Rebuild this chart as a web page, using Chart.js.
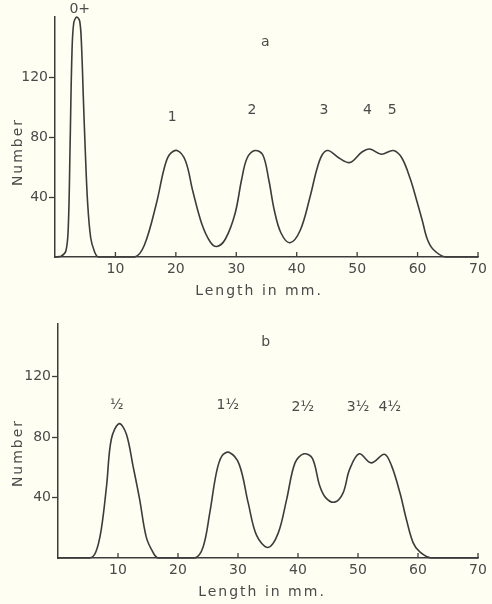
<!DOCTYPE html>
<html><head><meta charset="utf-8">
<script src="https://cdn.jsdelivr.net/npm/chart.js@4.4.1/dist/chart.umd.min.js"></script>
<style>
html,body{margin:0;padding:0;background:#fefef2;}
#wrap{position:relative;width:492px;height:604px;overflow:hidden;}
canvas{position:absolute;left:0;}
</style></head><body>
<div id="wrap">
<canvas id="ca" width="492" height="302" style="top:0"></canvas>
<canvas id="cb" width="492" height="302" style="top:302px"></canvas>
</div>
<script>
// ---- Data ----
const xTicks = [10, 20, 30, 40, 50, 60, 70];
const yTicks = [40, 80, 120];

// Panel a
const aLength = [0, 1.0, 1.8, 2.2, 2.5, 2.8, 3.1, 3.6, 4.1, 4.4, 4.7, 5.0, 5.4, 5.9, 6.5, 7.2,
  13.2, 14.8, 16.8, 18.0, 18.9, 20.2, 21.6, 22.8, 24.3, 25.7, 26.8, 28.2, 29.8, 30.9, 31.8,
  33.1, 34.4, 35.4, 36.3, 37.4, 38.9, 40.6, 42.2, 43.3, 44.2, 45.2, 47.0, 48.8, 50.8, 52.1, 54.0,
  56.0, 57.4, 58.8, 59.9, 60.8, 61.6, 62.6, 64.6, 70];
const aNumber = [0, 0.5, 4, 20, 75, 135, 156, 160, 157, 140, 105, 72, 36, 13, 4, 0,
  0, 8, 36, 58, 68, 71, 64, 44, 22, 10, 7, 12, 29, 52, 66,
  71, 68, 51, 31, 16, 9.5, 18, 40, 58, 68, 71, 66, 63, 70, 72, 68.5,
  71, 66, 52, 37, 24, 12, 5, 0, 0];
const aLabels = ['a', '0+', '1', '2', '3', '4', '5'];
const aLabelX = [34.8, 4.1, 19.4, 32.6, 44.5, 51.7, 55.8];
const aLabelY = [143, 165, 93, 98, 98, 98, 98];

// Panel b
const bLength = [0, 5.3, 6.3, 7.2, 8.1, 8.9, 10.2, 11.4, 12.5, 13.6, 14.7, 15.8, 16.7,
  22.8, 24.2, 25.3, 26.4, 27.3, 28.5, 30.2, 31.7, 33.1, 35.0, 36.7, 38.1, 39.5, 41.0, 42.4,
  43.6, 44.6, 46.1, 47.5, 48.6, 50.2, 52.2, 54.4, 55.6, 57.0, 58.1, 59.2, 60.3, 62.2, 70];
const bNumber = [0, 0, 4, 18.7, 48, 79, 89, 82, 61, 39, 14, 4, 0,
  0, 7.5, 30, 56.5, 67.5, 70, 62, 36.5, 15, 7, 16.5, 38.7, 63, 69, 66,
  48, 40, 37, 43, 58.7, 69, 63, 68.7, 61, 43, 25, 10, 4, 0, 0];
const bLabels = ['b', '½', '1½', '2½', '3½', '4½'];
const bLabelX = [34.6, 9.8, 28.3, 40.8, 50.0, 55.3];
const bLabelY = [143, 101, 101, 100, 100, 100];

const yTitle = 'Number';
const xTitle = 'Length in mm.';

// ---- Styling ----
const INK = '#3c3c3c';
const TXT = '#4a4a4a';
const FONT = '"DejaVu Sans", sans-serif';

const deco = {
  id: 'deco',
  afterDraw(chart, args, o) {
    const {ctx, chartArea, scales: {x, y}} = chart;
    ctx.save();
    ctx.strokeStyle = INK; ctx.lineWidth = 1.3;
    xTicks.forEach(v => {
      const px = x.getPixelForValue(v);
      ctx.beginPath(); ctx.moveTo(px, chartArea.bottom); ctx.lineTo(px, chartArea.bottom - 5); ctx.stroke();
    });
    ctx.fillStyle = TXT; ctx.font = '14px ' + FONT;
    ctx.textAlign = 'center'; ctx.textBaseline = 'middle';
    o.labels.forEach((t, i) => ctx.fillText(t, x.getPixelForValue(o.lx[i]), y.getPixelForValue(o.ly[i])));
    ctx.letterSpacing = '2px';
    ctx.fillText(xTitle, chartArea.left + 204, chartArea.bottom + 34);
    ctx.translate(18, chartArea.bottom - 105);
    ctx.rotate(-Math.PI / 2);
    ctx.fillText(yTitle, 0, 0);
    ctx.restore();
  }
};

function makeChart(id, xs, ys, yMax, left, top, bottomH, labels, lx, ly) {
  return new Chart(document.getElementById(id), {
    type: 'line',
    data: { datasets: [{
      data: xs.map((v, i) => ({x: v, y: ys[i]})),
      borderColor: INK, borderWidth: 1.6, pointRadius: 0,
      tension: 0.35, fill: false, clip: false
    }]},
    options: {
      responsive: false, animation: false, devicePixelRatio: 1,
      layout: { padding: { top: top, right: 14, left: 0, bottom: 0 } },
      plugins: { legend: {display: false}, tooltip: {enabled: false}, deco: {labels, lx, ly} },
      scales: {
        x: {
          type: 'linear', min: 0, max: 70,
          afterBuildTicks: s => { s.ticks = xTicks.map(v => ({value: v})); },
          afterFit: s => { s.height = bottomH; },
          grid: { display: true, drawOnChartArea: false, drawTicks: false },
          border: { display: true, color: INK, width: 1.5 },
          ticks: { color: TXT, font: {family: FONT, size: 14}, padding: 4, maxRotation: 0, autoSkip: false }
        },
        y: {
          type: 'linear', min: 0, max: yMax,
          afterBuildTicks: s => { s.ticks = yTicks.map(v => ({value: v})); },
          afterFit: s => { s.width = left; },
          grid: { display: true, drawOnChartArea: false, drawTicks: true, tickLength: 6, tickColor: INK, tickWidth: 1.3 },
          border: { display: true, color: INK, width: 1.5 },
          ticks: { color: TXT, font: {family: FONT, size: 14}, padding: 1 }
        }
      }
    },
    plugins: [deco]
  });
}

makeChart('ca', aLength, aNumber, 160, 55, 17, 45, aLabels, aLabelX, aLabelY);
makeChart('cb', bLength, bNumber, 155, 58, 22, 46, bLabels, bLabelX, bLabelY);
</script>
</body></html>
